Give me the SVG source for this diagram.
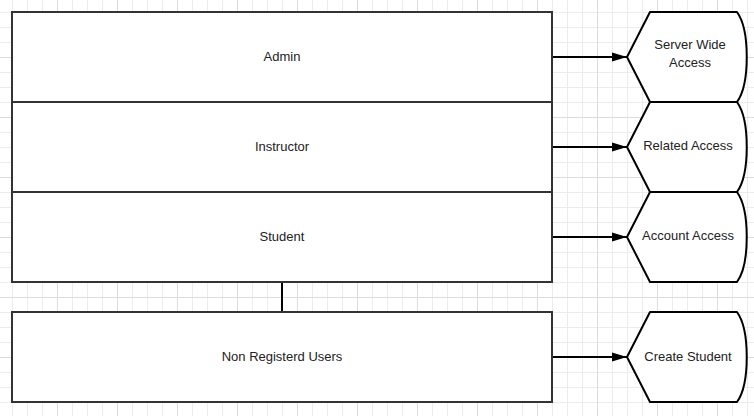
<svg xmlns="http://www.w3.org/2000/svg" width="754" height="416" viewBox="0 0 754 416">
<defs>
<pattern id="grid" x="12" y="12" width="60" height="60" patternUnits="userSpaceOnUse">
<path d="M0.5 0V60M15.5 0V60M30.5 0V60M0 0.5H60M0 15.5H60M0 30.5H60" stroke="#ececec" stroke-width="1" fill="none"/>
<path d="M45.5 0V60M0 45.5H60" stroke="#dcdcdc" stroke-width="1" fill="none"/>
</pattern>
<marker id="arrow" markerUnits="userSpaceOnUse" markerWidth="16" markerHeight="10" refX="15" refY="5" orient="auto">
<path d="M0,0.5 L15,5 L0,9.5 Z" fill="#000"/>
</marker>
<style>
.box{fill:#fff;stroke:#333;stroke-width:2}
.disp{fill:#fff;stroke:#000;stroke-width:2;stroke-linejoin:round}
.lbl{font-family:"Liberation Sans",Arial,sans-serif;font-size:13px;fill:#222;text-anchor:middle}
.conn{stroke:#000;stroke-width:2;fill:none}
</style>
</defs>
<rect width="754" height="416" fill="#fff"/>
<rect width="754" height="416" fill="url(#grid)"/>
<g id="connectors">
<line class="conn" x1="282" y1="282" x2="282" y2="312" stroke="#333"/>
<line class="conn" x1="552" y1="57" x2="627" y2="57" marker-end="url(#arrow)"/>
<line class="conn" x1="552" y1="147" x2="627" y2="147" marker-end="url(#arrow)"/>
<line class="conn" x1="552" y1="237" x2="627" y2="237" marker-end="url(#arrow)"/>
<line class="conn" x1="552" y1="357" x2="627" y2="357" marker-end="url(#arrow)"/>
</g>
<g id="admin">
<rect class="box" x="12" y="12" width="540" height="90"/>
<text class="lbl" x="282" y="60.5">Admin</text>
</g>
<g id="instructor">
<rect class="box" x="12" y="102" width="540" height="90"/>
<text class="lbl" x="282" y="150.5">Instructor</text>
</g>
<g id="student">
<rect class="box" x="12" y="192" width="540" height="90"/>
<text class="lbl" x="282" y="240.5">Student</text>
</g>
<g id="nonreg">
<rect class="box" x="12" y="312" width="540" height="90"/>
<text class="lbl" x="282" y="360.5">Non Registerd Users</text>
</g>
<g id="server-wide">
<path class="disp" d="M650,12 H737 C750,30 750,84 737,102 H650 L627,57 Z"/>
<text class="lbl" x="690" y="49">Server Wide</text>
<text class="lbl" x="690" y="67">Access</text>
</g>
<g id="related">
<path class="disp" d="M650,102 H737 C750,120 750,174 737,192 H650 L627,147 Z"/>
<text class="lbl" x="688" y="149.5">Related Access</text>
</g>
<g id="account">
<path class="disp" d="M650,192 H737 C750,210 750,264 737,282 H650 L627,237 Z"/>
<text class="lbl" x="688" y="239.5">Account Access</text>
</g>
<g id="create">
<path class="disp" d="M650,312 H737 C750,330 750,384 737,402 H650 L627,357 Z"/>
<text class="lbl" x="688" y="360.5">Create Student</text>
</g>
</svg>
